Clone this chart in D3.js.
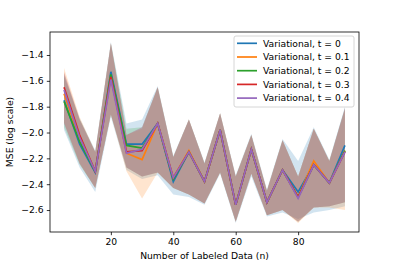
<!DOCTYPE html>
<html lang="en">
<head>
<meta charset="utf-8">
<style type="text/css">
    body { margin: 0; background: #fff; }
</style>
</head>
<body>
<svg width="399" height="266"></svg>

<script src="https://d3js.org/d3.v7.min.js"></script>
<script type="text/javascript">
// labeled data sizes
var nValues = [5, 10, 15, 20, 25, 30, 35, 40, 45, 50, 55, 60, 65, 70, 75, 80, 85, 90, 95];

var seriesNames = ["Variational, t = 0", "Variational, t = 0.1", "Variational, t = 0.2",
                   "Variational, t = 0.3", "Variational, t = 0.4"];
var colors = ["#1f77b4", "#ff7f0e", "#2ca02c", "#d62728", "#9467bd"];

// mean log MSE per series
var meanT0 = [-1.75, -2.09, -2.31, -1.53, -2.09, -2.09, -1.93, -2.38, -2.15, -2.38, -1.98, -2.56, -2.13, -2.54, -2.29, -2.46, -2.25, -2.39, -2.10];
var meanT1 = [-1.70, -2.05, -2.30, -1.56, -2.16, -2.21, -1.93, -2.35, -2.14, -2.38, -1.98, -2.56, -2.13, -2.54, -2.29, -2.50, -2.22, -2.39, -2.14];
var meanT2 = [-1.76, -2.07, -2.30, -1.55, -2.10, -2.12, -1.93, -2.36, -2.15, -2.38, -1.98, -2.56, -2.13, -2.54, -2.29, -2.50, -2.25, -2.39, -2.14];
var meanT3 = [-1.65, -2.02, -2.30, -1.57, -2.15, -2.14, -1.93, -2.35, -2.15, -2.38, -1.98, -2.56, -2.13, -2.54, -2.29, -2.50, -2.25, -2.39, -2.15];
var meanT4 = [-1.67, -2.04, -2.30, -1.59, -2.16, -2.13, -1.93, -2.35, -2.15, -2.38, -1.98, -2.56, -2.13, -2.54, -2.29, -2.51, -2.25, -2.39, -2.15];

// upper / lower band per series
var upperT0 = [-1.54, -1.89, -2.14, -1.30, -1.93, -1.90, -1.64, -2.18, -1.90, -2.23, -1.85, -2.33, -2.01, -2.44, -2.05, -2.22, -1.96, -2.21, -1.80];
var lowerT0 = [-1.98, -2.27, -2.46, -1.88, -2.29, -2.36, -2.33, -2.48, -2.50, -2.56, -2.32, -2.70, -2.34, -2.65, -2.62, -2.67, -2.62, -2.60, -2.57];
var upperT1 = [-1.50, -1.88, -2.15, -1.31, -2.02, -1.97, -1.65, -2.19, -1.90, -2.24, -1.85, -2.34, -2.02, -2.45, -2.06, -2.34, -1.97, -2.22, -1.82];
var lowerT1 = [-1.92, -2.24, -2.43, -1.86, -2.30, -2.51, -2.31, -2.43, -2.48, -2.55, -2.31, -2.69, -2.32, -2.64, -2.60, -2.70, -2.58, -2.58, -2.60];
var upperT2 = [-1.56, -1.90, -2.15, -1.31, -1.97, -1.96, -1.65, -2.19, -1.90, -2.24, -1.85, -2.34, -2.02, -2.45, -2.06, -2.34, -1.97, -2.22, -1.81];
var lowerT2 = [-1.96, -2.25, -2.43, -1.86, -2.27, -2.34, -2.31, -2.43, -2.48, -2.55, -2.31, -2.69, -2.32, -2.64, -2.60, -2.69, -2.58, -2.57, -2.54];
var upperT3 = [-1.53, -1.90, -2.15, -1.31, -2.02, -1.96, -1.65, -2.19, -1.90, -2.24, -1.85, -2.34, -2.02, -2.45, -2.06, -2.34, -1.97, -2.22, -1.81];
var lowerT3 = [-1.93, -2.24, -2.43, -1.86, -2.27, -2.34, -2.31, -2.43, -2.48, -2.55, -2.31, -2.69, -2.32, -2.64, -2.60, -2.69, -2.58, -2.57, -2.54];
var upperT4 = [-1.55, -1.90, -2.15, -1.31, -2.02, -1.96, -1.65, -2.19, -1.90, -2.24, -1.85, -2.34, -2.02, -2.45, -2.06, -2.34, -1.97, -2.22, -1.81];
var lowerT4 = [-1.93, -2.24, -2.43, -1.86, -2.27, -2.34, -2.31, -2.43, -2.48, -2.55, -2.31, -2.69, -2.32, -2.64, -2.60, -2.69, -2.58, -2.57, -2.54];

var xTicks = [20, 40, 60, 80];
var yTicks = [-2.6, -2.4, -2.2, -2.0, -1.8, -1.6, -1.4];

var means = [meanT0, meanT1, meanT2, meanT3, meanT4];
var uppers = [upperT0, upperT1, upperT2, upperT3, upperT4];
var lowers = [lowerT0, lowerT1, lowerT2, lowerT3, lowerT4];

var svg = d3.select("svg"),
    plotLeft = 50, plotRight = 359, plotTop = 32, plotBottom = 232;

var x = d3.scaleLinear().domain([0.5, 99.5]).range([plotLeft, plotRight]);
var y = d3.scaleLinear().domain([-2.770, -1.222]).range([plotBottom, plotTop]);

// bands first (matplotlib draws fills below lines)
var area = d3.area()
    .x(function(d) { return x(d.n); })
    .y0(function(d) { return y(d.lo); })
    .y1(function(d) { return y(d.hi); });

var line = d3.line()
    .x(function(d) { return x(d.n); })
    .y(function(d) { return y(d.m); });

var rows = means.map(function(m, s) {
    return nValues.map(function(n, i) {
        return { n: n, m: m[i], lo: lowers[s][i], hi: uppers[s][i] };
    });
});

svg.append("g").selectAll("path")
    .data(rows)
    .enter().append("path")
    .attr("d", area)
    .attr("fill", function(d, i) { return colors[i]; })
    .attr("fill-opacity", 0.2)
    .attr("stroke", "none");

svg.append("g").selectAll("path")
    .data(rows)
    .enter().append("path")
    .attr("d", line)
    .attr("fill", "none")
    .attr("stroke", function(d, i) { return colors[i]; })
    .attr("stroke-width", 1.7);

// axes
var fmt = function(v) { return d3.format(".1f")(v).replace("-", "\u2212"); };

var xAxis = svg.append("g")
    .attr("transform", "translate(0," + plotBottom + ")")
    .call(d3.axisBottom(x).tickValues(xTicks).tickSize(3.2).tickPadding(3.2).tickFormat(d3.format("d")));
var yAxis = svg.append("g")
    .attr("transform", "translate(" + plotLeft + ",0)")
    .call(d3.axisLeft(y).tickValues(yTicks).tickSize(3.2).tickPadding(3.2).tickFormat(fmt));

[xAxis, yAxis].forEach(function(g) {
    g.select(".domain").remove();
    g.selectAll(".tick line").attr("stroke", "#000").attr("stroke-width", 0.8);
    g.selectAll(".tick text").attr("fill", "#000");
});

// frame
svg.append("rect")
    .attr("x", plotLeft).attr("y", plotTop)
    .attr("width", plotRight - plotLeft).attr("height", plotBottom - plotTop)
    .attr("fill", "none").attr("stroke", "#000").attr("stroke-width", 0.8);

svg.append("text")
    .attr("x", (plotLeft + plotRight) / 2).attr("y", 259)
    .attr("text-anchor", "middle")
    .text("Number of Labeled Data (n)");

svg.append("text")
    .attr("transform", "translate(13," + (plotTop + plotBottom) / 2 + ") rotate(-90)")
    .attr("text-anchor", "middle")
    .text("MSE (log scale)");

// legend
var legend = svg.append("g");
legend.append("rect")
    .attr("x", 234).attr("y", 36).attr("width", 120).attr("height", 71)
    .attr("rx", 2).attr("fill", "#fff").attr("fill-opacity", 0.8)
    .attr("stroke", "#ccc").attr("stroke-width", 0.8);

var item = legend.selectAll(".item")
    .data(seriesNames)
    .enter().append("g")
    .attr("transform", function(d, i) { return "translate(0," + (43.3 + i * 13.7) + ")"; });
item.append("line")
    .attr("x1", 237).attr("x2", 257)
    .attr("stroke", function(d, i) { return colors[i]; })
    .attr("stroke-width", 1.7);
item.append("text")
    .attr("x", 263).attr("dy", "0.35em")
    .text(function(d) { return d; });

// same font on every text, set on the element itself
svg.selectAll("text")
    .attr("font-family", "DejaVu Sans")
    .attr("font-size", "9.2px");
</script>
</body>
</html>
